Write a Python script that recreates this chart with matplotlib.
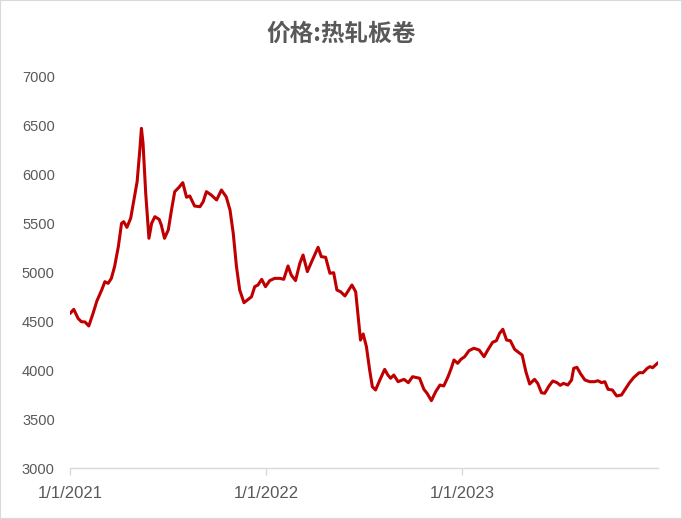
import pandas as pd
import matplotlib.pyplot as plt
import matplotlib.dates as mdates
from matplotlib.patches import Rectangle

plt.rcParams['font.family'] = ['Liberation Sans', 'Noto Sans CJK SC', 'DejaVu Sans']

# weekly-ish readings of the hot-rolled coil price
dates = [
    "2021-01-01", "2021-01-08", "2021-01-16", "2021-01-22", "2021-01-29", "2021-02-05",
    "2021-02-13", "2021-02-20", "2021-03-01", "2021-03-07", "2021-03-13", "2021-03-19",
    "2021-03-25", "2021-04-01", "2021-04-07", "2021-04-11", "2021-04-17", "2021-04-24",
    "2021-04-30", "2021-05-06", "2021-05-11", "2021-05-14", "2021-05-17", "2021-05-22",
    "2021-05-28", "2021-06-02", "2021-06-08", "2021-06-16", "2021-06-20", "2021-06-26",
    "2021-07-03", "2021-07-09", "2021-07-15", "2021-07-23", "2021-07-30", "2021-08-06",
    "2021-08-12", "2021-08-21", "2021-08-31", "2021-09-06", "2021-09-12", "2021-09-21",
    "2021-10-01", "2021-10-10", "2021-10-19", "2021-10-26", "2021-11-01", "2021-11-07",
    "2021-11-13", "2021-11-21", "2021-11-29", "2021-12-05", "2021-12-11", "2021-12-17",
    "2021-12-24", "2021-12-31", "2022-01-08", "2022-01-17", "2022-01-27", "2022-02-03",
    "2022-02-11", "2022-02-17", "2022-02-25", "2022-03-05", "2022-03-11", "2022-03-19",
    "2022-03-27", "2022-04-03", "2022-04-08", "2022-04-14", "2022-04-22", "2022-04-30",
    "2022-05-07", "2022-05-13", "2022-05-20", "2022-05-28", "2022-06-05", "2022-06-10",
    "2022-06-17", "2022-06-21", "2022-06-26", "2022-07-01", "2022-07-07", "2022-07-13",
    "2022-07-18", "2022-07-24", "2022-08-01", "2022-08-10", "2022-08-16", "2022-08-21",
    "2022-08-27", "2022-09-04", "2022-09-15", "2022-09-23", "2022-10-01", "2022-10-14",
    "2022-10-22", "2022-10-28", "2022-11-05", "2022-11-13", "2022-11-21", "2022-11-28",
    "2022-12-06", "2022-12-12", "2022-12-17", "2022-12-24", "2022-12-30", "2023-01-06",
    "2023-01-14", "2023-01-23", "2023-02-02", "2023-02-11", "2023-02-18", "2023-02-27",
    "2023-03-06", "2023-03-12", "2023-03-18", "2023-03-25", "2023-04-01", "2023-04-09",
    "2023-04-17", "2023-04-23", "2023-04-30", "2023-05-07", "2023-05-16", "2023-05-22",
    "2023-05-29", "2023-06-04", "2023-06-12", "2023-06-19", "2023-06-27", "2023-07-03",
    "2023-07-09", "2023-07-17", "2023-07-24", "2023-07-28", "2023-08-03", "2023-08-10",
    "2023-08-18", "2023-08-27", "2023-09-05", "2023-09-11", "2023-09-18", "2023-09-24",
    "2023-09-30", "2023-10-08", "2023-10-16", "2023-10-25", "2023-11-02", "2023-11-09",
    "2023-11-17", "2023-11-27", "2023-12-04", "2023-12-12", "2023-12-17", "2023-12-22",
    "2024-01-01",
]
prices = [
    4580, 4623, 4531, 4497, 4494, 4453,
    4583, 4708, 4821, 4906, 4889, 4940,
    5060, 5264, 5503, 5520, 5462, 5555,
    5742, 5929, 6253, 6475, 6322, 5810,
    5350, 5503, 5571, 5544, 5486, 5350,
    5435, 5639, 5827, 5872, 5919, 5770,
    5783, 5680, 5673, 5724, 5827, 5793,
    5742, 5844, 5773, 5639, 5401, 5060,
    4821, 4691, 4726, 4752, 4855, 4872,
    4930, 4855, 4917, 4940, 4940, 4930,
    5067, 4974, 4917, 5094, 5179, 5009,
    5111, 5196, 5258, 5162, 5156, 4992,
    4998, 4821, 4803, 4760, 4828, 4872,
    4803, 4583, 4309, 4371, 4241, 4003,
    3832, 3798, 3900, 4009, 3951, 3918,
    3951, 3883, 3907, 3873, 3934, 3918,
    3805, 3764, 3689, 3781, 3849, 3839,
    3934, 4020, 4105, 4071, 4112, 4139,
    4200, 4225, 4207, 4139, 4207, 4286,
    4302, 4378, 4419, 4309, 4302, 4214,
    4180, 4156, 3985, 3859, 3907, 3866,
    3770, 3764, 3839, 3890, 3873, 3846,
    3866, 3849, 3900, 4020, 4030, 3962,
    3900, 3883, 3883, 3893, 3873, 3883,
    3805, 3798, 3737, 3747, 3815, 3873,
    3927, 3975, 3975, 4020, 4037, 4026,
    4077,
]
y_ticks = [3000, 3500, 4000, 4500, 5000, 5500, 6000, 6500, 7000]
x_ticks = ["2021-01-01", "2022-01-01", "2023-01-01"]
title = "价格:热轧板卷"

df = pd.DataFrame({"date": pd.to_datetime(dates), "price": prices})

fig = plt.figure(figsize=(6.82, 5.19), dpi=100)
ax = fig.add_axes([70 / 682, 51 / 519, 588 / 682, 391 / 519])

ax.plot(df["date"], df["price"], color="#C00000", linewidth=2.2,
        solid_joinstyle="round", solid_capstyle="round")

ax.set_ylim(3000, 7000)
ax.set_yticks(y_ticks)
ax.set_xlim(df["date"].iloc[0], df["date"].iloc[-1])
ax.set_xticks(pd.to_datetime(x_ticks))
ax.xaxis.set_major_formatter(mdates.DateFormatter("%-m/%-d/%Y"))

for side in ["top", "right", "left"]:
    ax.spines[side].set_visible(False)
ax.spines["bottom"].set_color("#D9D9D9")
ax.spines["bottom"].set_linewidth(1.0)

ax.tick_params(axis="y", length=0, pad=11, labelsize=10.5, labelcolor="#595959")
ax.tick_params(axis="x", length=5, width=1.0, color="#D9D9D9", pad=8,
               labelsize=12, labelcolor="#595959")

fig.text(0.5, 1 - 34 / 519, title, ha="center", va="center", fontsize=17,
         color="#595959", fontweight="bold",
         family=["Noto Sans CJK SC", "DejaVu Sans"])

fig.patches.append(Rectangle((0, 0), 1, 1, transform=fig.transFigure, fill=False,
                             edgecolor="#D9D9D9", linewidth=1.5))

fig.savefig("out.png", dpi=100)
